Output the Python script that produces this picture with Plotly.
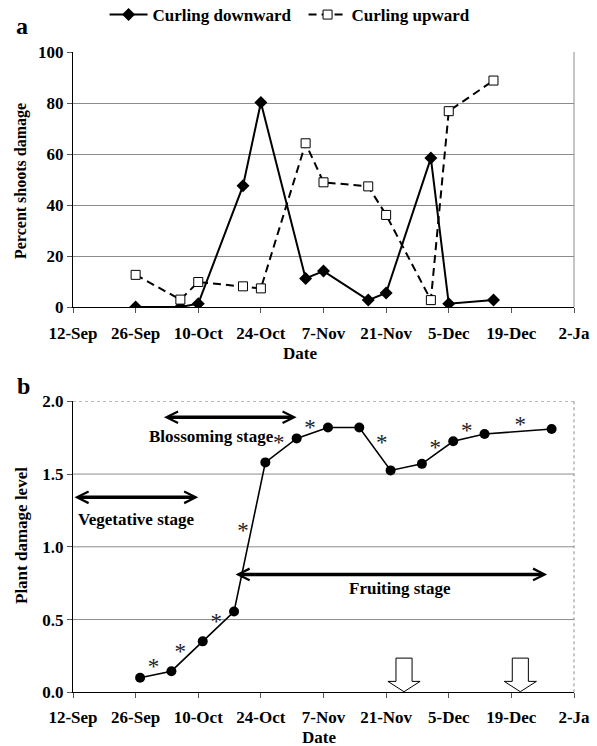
import plotly.graph_objects as go
import pandas as pd

# ---------------- data ----------------
tick_dates = ['2010-09-12', '2010-09-26', '2010-10-10', '2010-10-24', '2010-11-07',
              '2010-11-21', '2010-12-05', '2010-12-19', '2011-01-02']
tick_labels = ['12-Sep', '26-Sep', '10-Oct', '24-Oct', '7-Nov', '21-Nov', '5-Dec', '19-Dec', '2-Ja']

# Panel a
down_dates = ['2010-09-26', '2010-10-06', '2010-10-10', '2010-10-20', '2010-10-24', '2010-11-03',
              '2010-11-07', '2010-11-17', '2010-11-21', '2010-12-01', '2010-12-05', '2010-12-15']
down_vals = [0, 0, 1.3, 47.5, 80.2, 11.2, 14.1, 2.7, 5.5, 58.4, 1.3, 2.7]
up_dates = down_dates
up_vals = [12.6, 2.9, 9.8, 8.1, 7.3, 64.2, 48.9, 47.3, 36.1, 2.7, 76.8, 88.8]
a_yticks = [0, 20, 40, 60, 80, 100]

# Panel b
dmg_dates = ['2010-09-27', '2010-10-04', '2010-10-11', '2010-10-18', '2010-10-25', '2010-11-01',
             '2010-11-08', '2010-11-15', '2010-11-22', '2010-11-29', '2010-12-06', '2010-12-13',
             '2010-12-28']
dmg_vals = [0.10, 0.145, 0.35, 0.555, 1.58, 1.745, 1.82, 1.82, 1.525, 1.57, 1.725, 1.775, 1.81]
star_dates = ['2010-09-30', '2010-10-06', '2010-10-14', '2010-10-20', '2010-10-28', '2010-11-04',
              '2010-11-20', '2010-12-02', '2010-12-09', '2010-12-21']
star_vals = [0.165, 0.268, 0.474, 1.10, 1.706, 1.81, 1.706, 1.67, 1.787, 1.83]
b_yticks = [0.0, 0.5, 1.0, 1.5, 2.0]

stages = ['Vegetative stage', 'Blossoming stage', 'Fruiting stage']
stage_start = ['2010-09-12', '2010-10-02', '2010-10-18']
stage_end = ['2010-10-10', '2010-11-01', '2010-12-27']
stage_arrow_y = [1.34, 1.89, 0.81]
stage_text_x = ['2010-09-26', '2010-10-13', '2010-11-24']
stage_text_y = [1.19, 1.76, 0.71]

spray_dates = ['2010-11-25', '2010-12-21']

FONT = 'Liberation Serif, "Times New Roman", Times, serif'
GRID = '#8c8c8c'

fig = go.Figure()

fig.add_trace(go.Scatter(
    x=down_dates, y=down_vals, name='Curling downward', mode='lines+markers',
    line=dict(color='black', width=2),
    marker=dict(symbol='diamond', size=10, color='black'),
    xaxis='x', yaxis='y'))
fig.add_trace(go.Scatter(
    x=up_dates, y=up_vals, name='Curling upward', mode='lines+markers',
    line=dict(color='black', width=2, dash='8px,5px'),
    marker=dict(symbol='square', size=9, color='white', line=dict(color='black', width=1)),
    xaxis='x', yaxis='y'))

fig.add_trace(go.Scatter(
    x=dmg_dates, y=dmg_vals, mode='lines+markers', showlegend=False,
    line=dict(color='black', width=1.6),
    marker=dict(symbol='circle', size=10, color='black'),
    xaxis='x2', yaxis='y2'))
fig.add_trace(go.Scatter(
    x=star_dates, y=star_vals, mode='text', text=['*'] * len(star_dates), showlegend=False,
    textposition='middle center',
    textfont=dict(family=FONT, size=23, color='#222222'),
    xaxis='x2', yaxis='y2'))

tickfont = dict(family=FONT, size=17, color='black', weight='bold')
xcommon = dict(type='date', range=[tick_dates[0], tick_dates[-1]], tickmode='array',
               tickvals=tick_dates, ticktext=tick_labels, tickfont=tickfont,
               showline=True, linecolor='black', linewidth=1, ticks='outside', ticklen=5,
               tickcolor='#555', showgrid=False, zeroline=False)

fig.update_layout(
    width=597, height=746,
    margin=dict(l=73, r=23, t=0, b=0, autoexpand=False),
    paper_bgcolor='white', plot_bgcolor='white',
    xaxis=dict(domain=[0, 1], anchor='y', ticklabelstandoff=6, **xcommon),
    yaxis=dict(domain=[1 - 307 / 746, 1 - 52 / 746], anchor='x', range=[0, 100],
               tickmode='array', tickvals=a_yticks, ticktext=[str(v) for v in a_yticks],
               tickfont=tickfont, showline=True, linecolor='black', linewidth=1,
               ticks='outside', ticklen=5, tickcolor='#555',
               showgrid=True, gridcolor=GRID, gridwidth=1, zeroline=False),
    xaxis2=dict(domain=[0, 1], anchor='y2', ticklabelstandoff=4, **xcommon),
    yaxis2=dict(domain=[1 - 692.3 / 746, 1 - 401.3 / 746], anchor='x2', range=[0, 2.0],
                tickmode='array', tickvals=b_yticks, ticktext=['%.1f' % v for v in b_yticks],
                tickfont=tickfont, showline=True, linecolor='black', linewidth=1,
                ticks='outside', ticklen=5, tickcolor='#555',
                showgrid=False, zeroline=False),
    legend=dict(orientation='h', x=0.063, xanchor='left', y=1.004, yanchor='top',
                font=dict(family=FONT, size=17, color='black', weight='bold'),
                itemwidth=38, entrywidth=146, entrywidthmode='pixels',
                bgcolor='rgba(0,0,0,0)'),
    showlegend=True,
)

shapes = []
# panel a right border
shapes.append(dict(type='line', xref='x domain', yref='y domain', x0=1, x1=1, y0=0, y1=1,
                   line=dict(color=GRID, width=1)))
# panel b gridlines
for v in b_yticks[1:-1]:
    shapes.append(dict(type='line', xref='x2 domain', yref='y2', x0=0, x1=1, y0=v, y1=v,
                       line=dict(color=GRID, width=1), layer='below'))
shapes.append(dict(type='line', xref='x2 domain', yref='y2', x0=0, x1=1, y0=b_yticks[-1],
                   y1=b_yticks[-1], line=dict(color=GRID, width=1, dash='dot')))
shapes.append(dict(type='line', xref='x2 domain', yref='y2 domain', x0=1, x1=1, y0=0, y1=1,
                   line=dict(color=GRID, width=1, dash='dot')))

# hollow down arrows
def fmt(ts):
    return ts.strftime('%Y-%m-%d_%H:%M:%S')

for d in spray_dates:
    c = pd.Timestamp(d)
    sw = pd.Timedelta(hours=1.8 * 24)
    hw = pd.Timedelta(hours=3.6 * 24)
    top, sb, tip = 0.235, 0.075, 0.004
    pts = [(c - sw, top), (c + sw, top), (c + sw, sb), (c + hw, sb), (c, tip),
           (c - hw, sb), (c - sw, sb)]
    path = 'M' + ' L'.join('%s,%s' % (fmt(t), y) for t, y in pts) + ' Z'
    shapes.append(dict(type='path', xref='x2', yref='y2', path=path,
                       fillcolor='white', line=dict(color='black', width=1)))
fig.update_layout(shapes=shapes)

ann = []
labfont = dict(family=FONT, size=17, color='black', weight='bold')
for name, s, e, ay, tx, ty in zip(stages, stage_start, stage_end, stage_arrow_y,
                                  stage_text_x, stage_text_y):
    ann.append(dict(x=e, y=ay, ax=s, ay=ay, xref='x2', yref='y2', axref='x2', ayref='y2',
                    text='', showarrow=True, arrowhead=5, startarrowhead=5,
                    arrowside='end+start', arrowwidth=3.5, arrowsize=0.65,
                    startarrowsize=0.65, arrowcolor='black'))
    ann.append(dict(x=tx, y=ty, xref='x2', yref='y2', text=name, showarrow=False,
                    font=labfont, xanchor='center', yanchor='middle'))

W = 501.0
H = 746.0


def paper_text(px, py, text, font, angle=0):
    return dict(x=(px - 73) / W, y=1 - py / H, xref='paper', yref='paper', text=text,
                textangle=angle, showarrow=False, font=font,
                xanchor='center', yanchor='middle')


ann.append(paper_text(21, 181, 'Percent shoots damage',
                      dict(family=FONT, size=16, color='black', weight='bold'), -90))
ann.append(paper_text(21, 536, 'Plant damage level',
                      dict(family=FONT, size=17, color='black', weight='bold'), -90))
ann.append(paper_text(300, 353, 'Date', labfont))
ann.append(paper_text(319, 737, 'Date', labfont))
ann.append(paper_text(22, 26, 'a', dict(family=FONT, size=24, color='black', weight='bold')))
ann.append(paper_text(23, 386, 'b', dict(family=FONT, size=24, color='black', weight='bold')))
fig.update_layout(annotations=ann)

fig.write_html('out.html')
